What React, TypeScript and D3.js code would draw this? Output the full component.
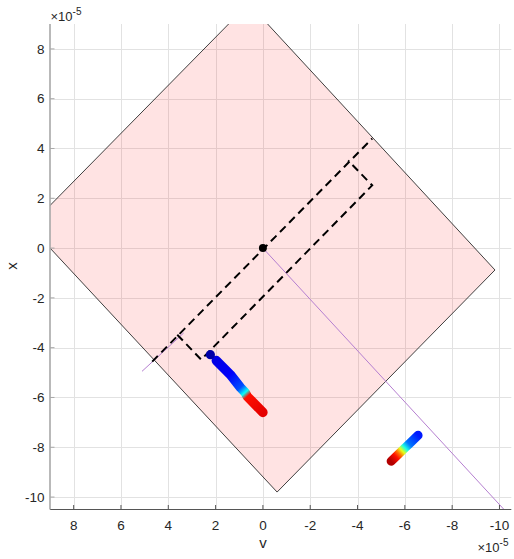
import React from "react";
import * as d3 from "d3";

const xTicks = [8, 6, 4, 2, 0, -2, -4, -6, -8, -10];
const yTicks = [8, 6, 4, 2, 0, -2, -4, -6, -8, -10];

const squareV = [0.6, -9.81, -0.6, 9.86];
const squareX = [9.82, -0.88, -9.8, 0.88];

const chordV = [4.68, -4.62];
const chordX = [-4.56, 4.4];

const boxV = [3.62, 2.61, -4.62, -3.6];
const boxX = [-3.48, -4.48, 2.52, 3.52];

const purpleAV = [0, -10.6];
const purpleAX = [0, -10.92];
const purpleBV = [5.11, 3.35];
const purpleBX = [-4.95, -3.41];

const originV = [0];
const originX = [0];

const track1V = [2.22, 1.97, 1.38, 0.95, 0.75, 0.66, 0.0];
const track1X = [-4.28, -4.52, -5.08, -5.6, -5.8, -5.96, -6.6];
const track1C = [0.04, 0.1, 0.12, 0.2, 0.38, 0.86, 0.9];

const track2V = [-6.56, -6.18, -6.01, -5.88, -5.76, -5.63, -5.42];
const track2X = [-7.52, -7.87, -8.02, -8.14, -8.25, -8.37, -8.56];
const track2C = [0.15, 0.24, 0.4, 0.6, 0.76, 0.86, 0.95];

const W = 514;
const H = 559;
const L = 50, R = 511.3, T = 24, B = 509.5;

const xs = d3.scaleLinear().domain([9, -10.5]).range([L, R]);
const ys = d3.scaleLinear().domain([-10.5, 9]).range([B, T]);

function clamp(v: number) { return Math.max(0, Math.min(1, v)); }
function jet(t: number) {
  const r = clamp(1.5 - Math.abs(4 * t - 3));
  const g = clamp(1.5 - Math.abs(4 * t - 2));
  const b = clamp(1.5 - Math.abs(4 * t - 1));
  return d3.rgb(r * 255, g * 255, b * 255).formatHex();
}

const lineGen = d3.line<[number, number]>().x(d => xs(d[0])).y(d => ys(d[1]));

function pts(v: number[], x: number[]): [number, number][] {
  return v.map((d, i) => [d, x[i]] as [number, number]);
}

function Track({ id, v, x, c, skipFirst, width }: { id: string; v: number[]; x: number[]; c: number[]; skipFirst: boolean; width: number }) {
  const p = pts(v, x);
  const start = skipFirst ? 1 : 0;
  const x1 = xs(p[start][0]), y1 = ys(p[start][1]);
  const x2 = xs(p[p.length - 1][0]), y2 = ys(p[p.length - 1][1]);
  const dx = x2 - x1, dy = y2 - y1;
  const len2 = dx * dx + dy * dy;
  const stops = p.slice(start).map((q, i) => {
    const px = xs(q[0]) - x1, py = ys(q[1]) - y1;
    return { off: clamp((px * dx + py * dy) / len2), col: jet(c[i + start]) };
  });
  return (
    <g>
      <defs>
        <linearGradient id={id} gradientUnits="userSpaceOnUse" x1={x1} y1={y1} x2={x2} y2={y2}>
          {stops.map((s, i) => <stop key={i} offset={s.off} stopColor={s.col} />)}
        </linearGradient>
      </defs>
      <path d={lineGen(p.slice(start)) || ""} fill="none" stroke={`url(#${id})`} strokeWidth={width} strokeLinecap="round" strokeLinejoin="round" />
      {skipFirst && <circle cx={xs(p[0][0])} cy={ys(p[0][1])} r={4.6} fill={jet(c[0])} />}
    </g>
  );
}

export default function App() {
  const font = "'Liberation Sans', Arial, Helvetica, sans-serif";
  const sq = pts(squareV, squareX);
  const box = pts(boxV, boxX);
  return (
    <svg width={W} height={H} style={{ position: "absolute", left: 0, top: 0, background: "#fff" }} fontFamily={font}>
      <defs>
        <clipPath id="plotClip">
          <rect x={L} y={T} width={R - L} height={B - T} />
        </clipPath>
      </defs>
      <rect x={0} y={0} width={W} height={H} fill="#fff" />
      <g stroke="#e2e2e2" strokeWidth={1}>
        {xTicks.map(t => <line key={"gx" + t} x1={Math.round(xs(t)) + 0.5} x2={Math.round(xs(t)) + 0.5} y1={T} y2={B} />)}
        {yTicks.map(t => <line key={"gy" + t} y1={Math.round(ys(t)) + 0.5} y2={Math.round(ys(t)) + 0.5} x1={L} x2={R} />)}
      </g>
      <g clipPath="url(#plotClip)">
        <path d={(lineGen(sq) || "") + "Z"} fill="rgb(255,0,0)" fillOpacity={0.11} stroke="#2a2a2a" strokeWidth={0.9} />
        <path d={lineGen(pts(purpleAV, purpleAX)) || ""} stroke="#b57fd0" strokeWidth={1} fill="none" />
        <path d={lineGen(pts(purpleBV, purpleBX)) || ""} stroke="#b57fd0" strokeWidth={1} fill="none" />
        <path d={lineGen(pts(chordV, chordX)) || ""} stroke="#000" strokeWidth={2} strokeDasharray="8 5" fill="none" />
        <path d={lineGen(box) || ""} stroke="#000" strokeWidth={2} strokeDasharray="8 5" fill="none" />
        {originV.map((v, i) => <circle key={i} cx={xs(v)} cy={ys(originX[i])} r={4} fill="#000" />)}
        <Track id="g1" v={track1V} x={track1X} c={track1C} skipFirst={true} width={9.5} />
        <Track id="g2" v={track2V} x={track2X} c={track2C} skipFirst={false} width={9} />
      </g>
      <line x1={L} x2={R} y1={B} y2={B} stroke="#555" strokeWidth={1.2} />
      <line x1={L} x2={L} y1={T} y2={B} stroke="#a8a8a8" strokeWidth={1.6} />
      {xTicks.map(t => (
        <g key={"xt" + t}>
          <line x1={xs(t)} x2={xs(t)} y1={B} y2={B - 4.5} stroke="#555" strokeWidth={1} />
          <text x={xs(t)} y={529.5} textAnchor="middle" fontSize={13.5} fill="#262626">{t}</text>
        </g>
      ))}
      {yTicks.map(t => (
        <g key={"yt" + t}>
          <line x1={L} x2={L + 4.5} y1={ys(t)} y2={ys(t)} stroke="#a8a8a8" strokeWidth={1} />
          <text x={44.5} y={ys(t) + 4.8} textAnchor="end" fontSize={13.5} fill="#262626">{t}</text>
        </g>
      ))}
      <text x={50.5} y={21} fontSize={13} fill="#262626">
        ×10<tspan fontSize={10} dy={-6}>-5</tspan>
      </text>
      <text x={477.5} y={552} fontSize={13} fill="#262626">
        ×10<tspan fontSize={10} dy={-6}>-5</tspan>
      </text>
      <text x={263} y={548} textAnchor="middle" fontSize={15} fill="#262626">v</text>
      <text transform="translate(17,266) rotate(-90)" textAnchor="middle" fontSize={15} fill="#262626">x</text>
    </svg>
  );
}
